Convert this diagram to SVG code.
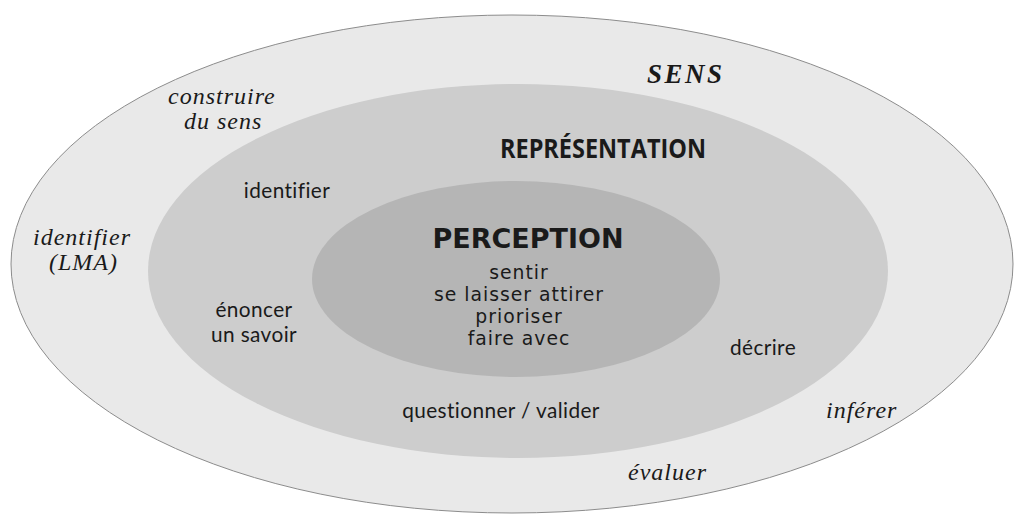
<svg xmlns="http://www.w3.org/2000/svg" width="1015" height="527" viewBox="0 0 1015 527">
<style>
.it{font-family:"Liberation Serif","Times New Roman",serif;font-style:italic;font-size:24px;letter-spacing:1px;fill:#1a1a1a}
.sn{font-family:Lato,"Open Sans",sans-serif;font-size:20.8px;letter-spacing:0.4px;fill:#1a1a1a}
.pc{font-family:"DejaVu Sans",sans-serif;font-size:18.8px;letter-spacing:1px;fill:#1a1a1a}
</style>
<rect width="1015" height="527" fill="#ffffff"/>
<g id="sens">
<ellipse cx="512" cy="264" rx="501" ry="249" fill="#e9e9e9" stroke="#8c8c8c" stroke-width="1"/>
<text x="647" y="83" font-family="Liberation Serif,serif" font-style="italic" font-weight="bold" font-size="27" letter-spacing="2.5" fill="#1a1a1a">SENS</text>
<text class="it" x="168" y="104">construire</text>
<text class="it" x="184" y="129">du sens</text>
<text class="it" x="33" y="245">identifier</text>
<text class="it" x="49" y="270">(LMA)</text>
<text class="it" x="826" y="418">inférer</text>
<text class="it" x="628" y="480">évaluer</text>
</g>
<g id="representation">
<ellipse cx="518" cy="271" rx="370" ry="187" fill="#cdcdcd"/>
<text x="500" y="158" font-family="Open Sans,sans-serif" font-weight="bold" font-size="27" textLength="206" lengthAdjust="spacingAndGlyphs" fill="#1a1a1a">REPRÉSENTATION</text>
<text class="sn" x="287" y="198" text-anchor="middle">identifier</text>
<text class="sn" x="254" y="317" text-anchor="middle">énoncer</text>
<text class="sn" x="254" y="342" text-anchor="middle">un savoir</text>
<text class="sn" x="763" y="355" text-anchor="middle">décrire</text>
<text class="sn" x="501" y="418" text-anchor="middle">questionner / valider</text>
</g>
<g id="perception">
<ellipse cx="516" cy="279" rx="204" ry="98" fill="#b5b5b5"/>
<text x="528" y="248" text-anchor="middle" font-family="DejaVu Sans,sans-serif" font-weight="bold" font-size="27" fill="#1a1a1a">PERCEPTION</text>
<text class="pc" x="519" y="279" text-anchor="middle">sentir</text>
<text class="pc" x="519" y="301" text-anchor="middle">se laisser attirer</text>
<text class="pc" x="519" y="323" text-anchor="middle">prioriser</text>
<text class="pc" x="519" y="345" text-anchor="middle">faire avec</text>
</g>
<g id="connectors"></g>
</svg>
